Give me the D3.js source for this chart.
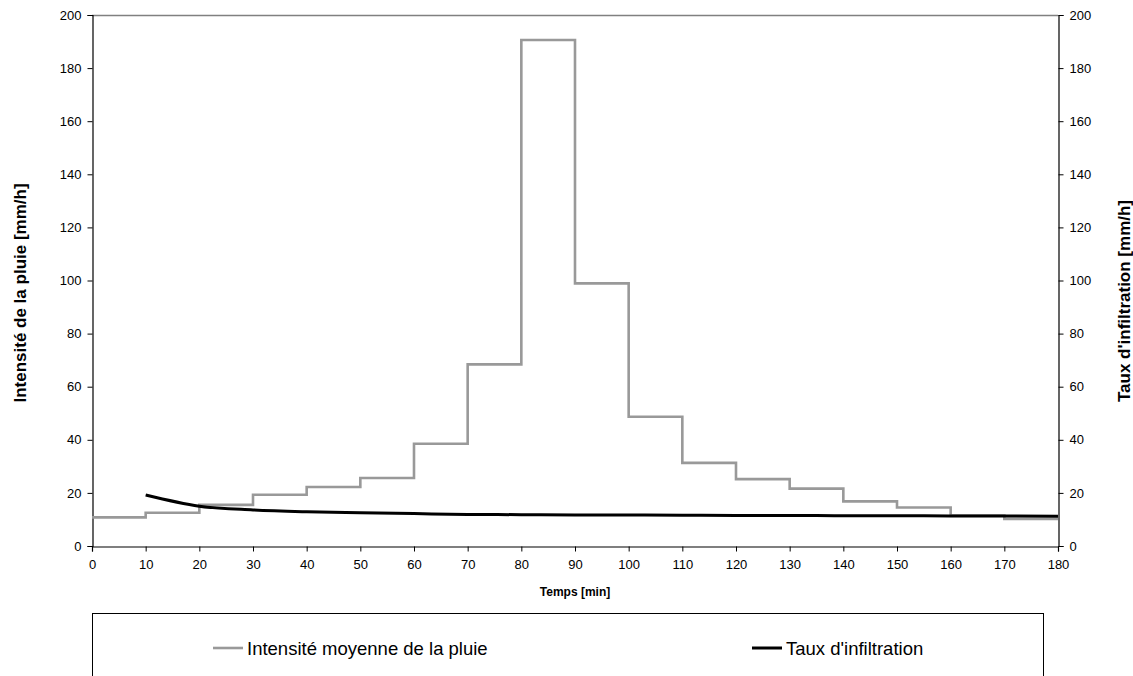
<!DOCTYPE html>
<html>
<head>
<meta charset="utf-8">
<script src="https://cdn.jsdelivr.net/npm/d3@7"></script>
<style>
  body { margin: 0; background: #fff; }
  svg { font-family: "Liberation Sans", Arial, sans-serif; }
</style>
</head>
<body>
<svg width="1133" height="676"></svg>
<script>
// time steps (min) and mean rain intensity per 10 min block
var times = [0, 10, 20, 30, 40, 50, 60, 70, 80, 90, 100, 110, 120, 130, 140, 150, 160, 170, 180];
var rain = [10.8, 12.5, 15.5, 19.3, 22.2, 25.6, 38.5, 68.4, 190.6, 98.9, 48.7, 31.3, 25.2, 21.6, 16.8, 14.5, 11.5, 10.2];
// infiltration rate, from t = 10 to 180
var infTimes = [10, 20, 30, 40, 50, 60, 70, 80, 90, 100, 110, 120, 130, 140, 150, 160, 170, 180];
var infil = [19.2, 15.0, 13.6, 12.9, 12.5, 12.2, 11.9, 11.8, 11.7, 11.7, 11.6, 11.5, 11.5, 11.4, 11.4, 11.3, 11.3, 11.2];
var yTicks = [0, 20, 40, 60, 80, 100, 120, 140, 160, 180, 200];
var seriesNames = ["Intensité moyenne de la pluie", "Taux d'infiltration"];
var seriesColors = ["#999999", "#000000"];

var svg = d3.select("svg"),
margin = {top: 15, right: 75, bottom: 130, left: 92},
width = +svg.attr("width") - margin.left - margin.right,
height = +svg.attr("height") - margin.top - margin.bottom;

var x = d3.scaleLinear().domain([0, 180]).range([margin.left, margin.left + width]);
var y = d3.scaleLinear().domain([0, 200]).range([margin.top + height, margin.top]);

// top border of plot area
svg.append("line")
.attr("x1", x(0)).attr("x2", x(180))
.attr("y1", y(200) + 0.5).attr("y2", y(200) + 0.5)
.style("stroke", "#808080")
.style("stroke-width", 1.5);

// left axis
var yl = svg.append("g")
.attr("transform", "translate(" + (x(0) + 0.5) + ",0)")
.call(d3.axisLeft(y).tickValues(yTicks).tickSize(5).tickPadding(6));

// right axis
var yr = svg.append("g")
.attr("transform", "translate(" + (x(180) + 0.5) + ",0)")
.call(d3.axisRight(y).tickValues(yTicks).tickSize(5).tickPadding(6));

// bottom axis
var xa = svg.append("g")
.attr("transform", "translate(0," + (y(0) + 0.5) + ")")
.call(d3.axisBottom(x).tickValues(times).tickSize(5).tickPadding(8));

[yl, yr, xa].forEach(function(a) {
  a.select(".domain").style("stroke", "#000").style("stroke-width", 1.2);
  a.selectAll(".tick line").style("stroke", "#000");
  a.selectAll("text").style("font-size", "13px").style("fill", "#000")
  .style("font-family", "'Liberation Sans', Arial, sans-serif");
});

// rain step line
var stepData = rain.map(function(v, i) { return [times[i], v]; });
stepData.push([180, rain[rain.length - 1]]);

var stepLine = d3.line()
.x(function(d) { return x(d[0]); })
.y(function(d) { return y(d[1]); })
.curve(d3.curveStepAfter);

svg.append("path")
.datum(stepData)
.attr("d", stepLine)
.style("fill", "none")
.style("stroke", seriesColors[0])
.style("stroke-width", 2.6);

// infiltration curve
var infLine = d3.line()
.x(function(d, i) { return x(infTimes[i]); })
.y(function(d) { return y(d); })
.curve(d3.curveMonotoneX);

svg.append("path")
.datum(infil)
.attr("d", infLine)
.style("fill", "none")
.style("stroke", seriesColors[1])
.style("stroke-width", 3);

// axis titles
svg.append("text")
.attr("transform", "translate(26,293) rotate(-90)")
.style("text-anchor", "middle")
.style("font-weight", "bold")
.style("font-size", "17px")
.text("Intensité de la pluie [mm/h]");

svg.append("text")
.attr("transform", "translate(1130,301) rotate(-90)")
.style("text-anchor", "middle")
.style("font-weight", "bold")
.style("font-size", "17px")
.text("Taux d'infiltration [mm/h]");

svg.append("text")
.attr("x", 575)
.attr("y", 596)
.style("text-anchor", "middle")
.style("font-weight", "bold")
.style("font-size", "12px")
.text("Temps [min]");

// legend box
svg.append("rect")
.attr("x", 92.5)
.attr("y", 613.5)
.attr("width", 951)
.attr("height", 100)
.style("fill", "none")
.style("stroke", "#000")
.style("stroke-width", 1);

var legX = [213, 752];
var legend = svg.selectAll(".legend")
.data(seriesNames)
.enter().append("g")
.attr("class", "legend")
.attr("transform", function(d, i) { return "translate(" + legX[i] + ",648)"; });

legend.append("line")
.attr("x1", 0).attr("x2", 30)
.attr("y1", 0).attr("y2", 0)
.style("stroke", function(d, i) { return seriesColors[i]; })
.style("stroke-width", function(d, i) { return i ? 3 : 2.6; });

legend.append("text")
.attr("x", 34)
.attr("y", 7)
.style("font-size", "18.5px")
.text(function(d) { return d; });
</script>
</body>
</html>
